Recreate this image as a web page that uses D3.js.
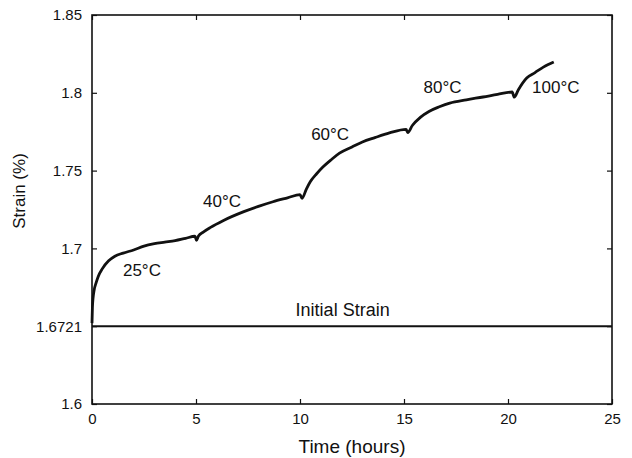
<!DOCTYPE html>
<html>
<head>
<meta charset="utf-8">
<script src="https://cdn.jsdelivr.net/npm/d3@7"></script>
<style>
  body { margin: 0; background: #fff; }
  text { font-family: "Liberation Sans", Arial, sans-serif; fill: #111; }
</style>
</head>
<body>
<div id="chart"></div>
<script>
// Strain curve (time in hours, strain in %)
const time = [
  0, 0.02, 0.05, 0.1, 0.2, 0.3, 0.5, 0.8, 1.1, 1.5, 2.0, 2.5, 3.0, 3.5, 4.0, 4.5, 4.95,
  5.02, 5.12, 5.35, 5.7, 6.3, 7.3, 8.0, 8.7, 9.4, 10.0,
  10.1, 10.3, 10.5, 10.8, 11.1, 11.5, 11.9, 12.5, 13.0, 13.6, 14.3, 15.1,
  15.18, 15.4, 15.8, 16.2, 16.7, 17.2, 18.0, 18.8, 19.5, 20.2,
  20.3, 20.5, 20.9, 21.3, 21.7, 22.2
];
const strain = [
  1.652, 1.662, 1.668, 1.673, 1.678, 1.682, 1.687, 1.692, 1.695, 1.697, 1.699, 1.7015, 1.703, 1.704, 1.705, 1.7065, 1.7078,
  1.7052, 1.7080, 1.7105, 1.7135, 1.7178, 1.7236, 1.7270, 1.7300, 1.7325, 1.7346,
  1.7322, 1.7380, 1.7430, 1.7480, 1.7523, 1.7570, 1.7612, 1.7652, 1.7684, 1.7712, 1.7742, 1.7765,
  1.7745, 1.7790, 1.7844, 1.7880, 1.7910, 1.7934, 1.7955, 1.7973, 1.7990, 1.8005,
  1.7972, 1.8020, 1.8095, 1.8130, 1.8165, 1.8198
];

// Temperature labels: [time, strain, text]
const tempLabels = [
  [2.4, 1.6823, "25°C"],
  [6.25, 1.7268, "40°C"],
  [11.45, 1.7697, "60°C"],
  [16.85, 1.7999, "80°C"],
  [22.3, 1.7999, "100°C"]
];

// Initial strain level (drawn at the 1.6721 tick position)
const initialStrain = 1.65;
const initialLabel = "Initial Strain";

const xTicks = [0, 5, 10, 15, 20, 25];
const yTicks = [1.6, 1.65, 1.7, 1.75, 1.8, 1.85];
const yTickLabels = ["1.6", "1.6721", "1.7", "1.75", "1.8", "1.85"];

const margin = { top: 15, right: 20, bottom: 54, left: 92 },
    width = 632 - margin.left - margin.right,
    height = 458 - margin.top - margin.bottom;

const svg = d3.select("#chart")
    .append("svg")
    .attr("width", 632)
    .attr("height", 458)
    .append("g")
    .attr("transform", `translate(${margin.left},${margin.top})`);

const x = d3.scaleLinear().domain([0, 25]).range([0, width]);
const y = d3.scaleLinear().domain([1.6, 1.85]).range([height, 0]);

// Axes with inward ticks on all four sides
const tick = 5;
svg.append("g")
    .attr("transform", `translate(0,${height})`)
    .call(d3.axisBottom(x).tickValues(xTicks).tickSize(-tick).tickPadding(9).tickFormat(d3.format("d")))
    .call(g => g.selectAll("text").attr("font-size", "15px"));
svg.append("g")
    .call(d3.axisTop(x).tickValues(xTicks).tickSize(-tick).tickFormat(""));
svg.append("g")
    .call(d3.axisLeft(y).tickValues(yTicks).tickSize(-tick).tickPadding(10)
        .tickFormat((d, i) => yTickLabels[i]))
    .call(g => g.selectAll("text").attr("font-size", "15px"));
svg.append("g")
    .attr("transform", `translate(${width},0)`)
    .call(d3.axisRight(y).tickValues(yTicks).tickSize(-tick).tickFormat(""));

svg.selectAll(".domain").remove();
svg.selectAll(".tick line").attr("stroke", "#111").attr("stroke-width", 1.2);

// Frame
svg.append("rect")
    .attr("width", width)
    .attr("height", height)
    .attr("fill", "none")
    .attr("stroke", "#111")
    .attr("stroke-width", 1.6);

// Initial strain line
svg.append("line")
    .attr("x1", x(0)).attr("x2", x(25))
    .attr("y1", y(initialStrain)).attr("y2", y(initialStrain))
    .attr("stroke", "#111")
    .attr("stroke-width", 2);

svg.append("text")
    .attr("x", x(12.05))
    .attr("y", y(initialStrain) - 10)
    .attr("text-anchor", "middle")
    .attr("font-size", "18px")
    .text(initialLabel);

// Strain curve
const pts = time.map((t, i) => [t, strain[i]]);
svg.append("path")
    .datum(pts)
    .attr("fill", "none")
    .attr("stroke", "#111")
    .attr("stroke-width", 2.8)
    .attr("stroke-linejoin", "round")
    .attr("d", d3.line()
        .x(d => x(d[0]))
        .y(d => y(d[1]))
        .curve(d3.curveMonotoneX));

// Temperature labels
svg.selectAll(".temp")
    .data(tempLabels)
    .enter().append("text")
    .attr("class", "temp")
    .attr("x", d => x(d[0]))
    .attr("y", d => y(d[1]))
    .attr("text-anchor", "middle")
    .attr("font-size", "17px")
    .text(d => d[2]);

// Axis titles
svg.append("text")
    .attr("x", width / 2)
    .attr("y", height + 49)
    .attr("text-anchor", "middle")
    .attr("font-size", "19px")
    .text("Time (hours)");

svg.append("text")
    .attr("transform", "rotate(-90)")
    .attr("x", -(191 - margin.top))
    .attr("y", -67)
    .attr("text-anchor", "middle")
    .attr("font-size", "17px")
    .text("Strain (%)");
</script>
</body>
</html>
